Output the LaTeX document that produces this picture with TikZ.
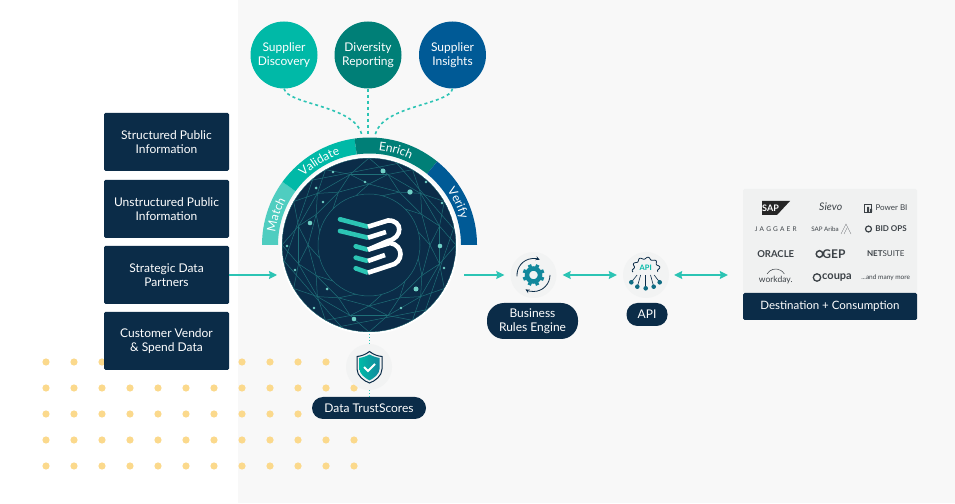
\documentclass[tikz,border=0pt]{standalone}
\usepackage{fontspec}
\setmainfont{Lato}
\usetikzlibrary{decorations.text,arrows.meta}
\definecolor{navyc}{HTML}{0B2C48}
\definecolor{greyc}{HTML}{F8F8F8}
\definecolor{logoc}{HTML}{F0F1F1}
\definecolor{logotxt}{HTML}{3C4247}
\definecolor{matchc}{HTML}{4FCDC0}
\definecolor{validc}{HTML}{00B9A7}
\definecolor{enrichc}{HTML}{007F77}
\definecolor{verifyc}{HTML}{005A96}
\definecolor{flowc}{HTML}{2CC4B4}
\definecolor{meshc}{HTML}{1F6F78}
\definecolor{sparkc}{HTML}{6FD0C6}
\definecolor{dotc}{HTML}{FBD98C}
\definecolor{gearc}{HTML}{12889C}
\newcommand{\labelfont}{\fontsize{12}{14}\selectfont}
\newcommand{\bandfont}{\fontsize{12}{14}\selectfont\color{white}}
\tikzset{
	infobox/.style={fill=navyc,text=white,rounded corners=1.5pt,minimum width=125,minimum height=58,align=center,font=\labelfont},
	bubble/.style={circle,minimum size=67,inner sep=0,text=white,align=center,font=\labelfont},
	pill/.style={fill=navyc,text=white,rounded corners=11pt,align=center,inner sep=0,font=\labelfont},
	iconbg/.style={circle,fill=logoc!70!greyc,minimum size=46,inner sep=0},
	flow/.style={draw=flowc,line width=1.5pt,>={Stealth[length=8pt,width=8pt,inset=1pt]}},
	dashlink/.style={draw=flowc,line width=1.6pt,dash pattern=on 3pt off 3pt},
	specklink/.style={draw=flowc,line width=1pt,dash pattern=on 1pt off 2pt},
	brand/.style={text=logotxt,inner sep=0}
}
\begin{document}
\begin{tikzpicture}[x=1pt,y=1pt]
	\useasboundingbox (0,0) rectangle (955,503);
	\fill[white] (0,0) rectangle (955,503);
	\fill[greyc] (238,0) rectangle (955,503);
	\foreach \row in {141,115,89,63,37}
		\foreach \col in {46,74,...,354}
			\fill[dotc] (\col,\row) circle (3.6);

	\node[infobox] (public) at (166.5,361) {Structured Public\\Information};
	\node[infobox] (unstruct) at (166.5,294) {Unstructured Public\\Information};
	\node[infobox] (partners) at (166.5,228) {Strategic Data\\Partners};
	\node[infobox] (vendor) at (166.5,162) {Customer Vendor\\\& Spend Data};

	\node[bubble,fill=validc] (discovery) at (284,448) {Supplier\\Discovery};
	\node[bubble,fill=enrichc] (diversity) at (368,448) {Diversity\\Reporting};
	\node[bubble,fill=verifyc] (insights) at (452.5,448) {Supplier\\Insights};

	\begin{scope}[shift={(369.5,258)}]
		\foreach \from/\to/\col in {180/144/matchc,144/98/validc,98/51/enrichc,51/0/verifyc}
			\fill[\col] (\from:107.5) arc (\from:\to:107.5) -- (\to:91.5) arc (\to:\from:91.5) -- cycle;
		\path[decorate,decoration={text along path,text align=center,text={|\bandfont|Match}}] (180:95) arc (180:144:95);
		\path[decorate,decoration={text along path,text align=center,text={|\bandfont|Validate}}] (144:95) arc (144:98:95);
		\path[decorate,decoration={text along path,text align=center,text={|\bandfont|Enrich}}] (98:95) arc (98:51:95);
		\path[decorate,decoration={text along path,text align=center,text={|\bandfont|Verify}}] (51:95) arc (51:0:95);
	\end{scope}

	\node[circle,fill=navyc,draw=white,line width=2pt,minimum size=176,inner sep=0] (hub) at (369,258) {};
	\begin{scope}
		\clip (hub) circle (87);
		\begin{scope}[shift={(hub)},draw=meshc,line width=.5pt]
			\foreach \a in {0,30,...,330} {
				\draw (\a:87) -- (\a+15:73) -- (\a+30:87);
				\draw (\a+15:73) -- (\a+45:73);
				\draw (\a+15:73) -- (\a+30:61) -- (\a+45:73);
				\draw (\a+30:61) -- (\a+60:61);
				\draw (\a+30:61) -- (\a+45:51);
			}
			\foreach \a in {10,70,...,310}
				\draw (\a:87) -- (\a+62:87);
			\fill[navyc] (0,0) circle (51);
			\draw (0,0) circle (51);
			\draw (0,0) circle (87);
		\end{scope}
	\end{scope}
	\foreach \x/\y/\r in {333/331/1.4,383/332/2.5,365/321/1.4,426/321/1.4,410/311/2.7,316/315/1.5,323/301/1.4,442/300/1.4,310/280/2.3,440/257/2.3,287/257/1.4,444/235/1.4,295/233/1.4,327/214/1.5,416/214/2.5,314/195/1.4,401/195/1.4,354/184/2.3}
		\fill[sparkc] (\x,\y) circle (\r);

	\foreach \ya/\yb/\xa in {283.7/276.3/340,272/265.3/340,256.7/253.3/355.7,245.3/242/355.7,234.7/230.3/355.7} {
		\fill[flowc] (\xa,\ya) circle (2.3);
		\draw[flowc,line width=4.6pt] (\xa,\ya) -- (368,\yb);
	}
	\draw[white,line width=4.6pt] (368,276.3) -- (388,282.5) .. controls (403,283) and (403,265) .. (388,262) -- (368,253.3);
	\draw[white,line width=4.6pt] (368,265.3) -- (386,271);
	\draw[white,line width=4.6pt] (368,253.3) -- (390,260) .. controls (404,258) and (404,240) .. (390,237.5) -- (368,230.3);
	\draw[white,line width=4.6pt] (368,242) -- (385,248);

	\node[iconbg] (trust) at (369,136) {};
	\node[pill,minimum width=114,minimum height=22] (scores) at (369,95) {Data TrustScores};
	\node[iconbg] (rules) at (533.5,228) {};
	\node[pill,minimum width=91,minimum height=36,rounded corners=17pt] (engine) at (532.5,182) {Business\\Rules Engine};
	\node[iconbg] (api) at (646,228) {};
	\node[pill,minimum width=41,minimum height=23] (apilabel) at (647,188.5) {API};

	\draw[navyc,line width=1pt] (369.5,151.5) .. controls (365,148) and (361,147) .. (357,146.5) -- (357,134) .. controls (357,127) and (364,122) .. (369.5,120) .. controls (375,122) and (382,127) .. (382,134) -- (382,146.5) .. controls (378,147) and (374,148) .. (369.5,151.5) -- cycle;
	\shade[left color=validc,right color=gearc] (369.5,148.5) .. controls (366,146.5) and (362,145.5) .. (359.5,145) -- (359.5,134) .. controls (359.5,129) and (365,125) .. (369.5,122.5) .. controls (374,125) and (379.5,129) .. (379.5,134) -- (379.5,145) .. controls (377,145.5) and (373,146.5) .. (369.5,148.5) -- cycle;
	\draw[white,line width=2pt] (364,136) -- (368,132) -- (375,139);

	\begin{scope}[shift={(rules)}]
		\foreach \a in {0,45,...,315}
			\draw[gearc,line width=3.5pt] (\a+22:7) -- (\a+22:11);
		\draw[gearc,line width=4.5pt] (0,0) circle (6.5);
		\draw[navyc,line width=.8pt,-stealth] (185:16.5) arc (185:68:16.5);
		\draw[navyc,line width=.8pt,-stealth] (0:16.5) arc (0:-119:16.5);
	\end{scope}

	\draw[navyc,line width=.8pt] plot[domain=-15:195,samples=90] ({646+(12.8+1.2*sin(10*\x))*cos(\x)},{234+(12.8+1.2*sin(10*\x))*sin(\x)*.85});
	\node[text=validc,inner sep=0,font=\fontsize{7.5}{8}\selectfont\bfseries] (apitag) at (645.7,235) {API};
	\foreach \x/\y in {631.3/220.7,637.3/216.3,645.7/214.7,653.7/216.3,659.7/220.7} {
		\draw[navyc,line width=.6pt] (\x,\y) -- (645.7+.6*\x-.6*645.7,228);
		\fill[gearc!70!navyc] (\x,\y) circle (2.3);
	}

	\node[fill=logoc,rounded corners=1.5pt,minimum width=174,minimum height=104,inner sep=0] (logos) at (830,262) {};
	\node[fill=navyc,text=white,rounded corners=1.5pt,minimum width=174,minimum height=27,inner sep=0,font=\fontsize{11.5}{14}\selectfont] (dest) at (830,196.5) {Destination + Consumption};

	\fill[black!85] (762,302) -- (790,302) -- (777,288) -- (762,288) -- cycle;
	\node[text=white,inner sep=0,font=\fontsize{9}{10}\selectfont\bfseries] (sap) at (770.5,295) {SAP};
	\node[brand,font=\fontsize{10.5}{11}\selectfont\itshape] (sievo) at (830.7,296) {Sievo};
	\draw[logotxt,line width=.7pt] (864,291) rectangle (871,299);
	\fill[logotxt] (867,291) rectangle (869,296) (870,291) rectangle (872,294);
	\node[brand,font=\fontsize{8}{9}\selectfont] (powerbi) at (891.5,295) {Power BI};
	\node[brand,font=\fontsize{6.5}{7}\selectfont] (jaggaer) at (775.7,274) {J\,\,A\,\,G\,\,G\,\,A\,\,E\,\,R};
	\node[brand,font=\fontsize{6.2}{7}\selectfont] (ariba) at (825,274) {SAP Ariba};
	\draw[logotxt!70,line width=.4pt] (841,269) -- (846,279) -- (851,269) (844,269) -- (847,275);
	\draw[logotxt,line width=1.2pt] (868.5,274) circle (3);
	\node[brand,font=\fontsize{8}{9}\selectfont\bfseries] (bidops) at (891,274) {BID OPS};
	\node[brand,font=\fontsize{9.5}{10}\selectfont\bfseries] (oracle) at (775.7,249) {ORACLE};
	\node[brand,font=\fontsize{12}{13}\selectfont\bfseries] (gep) at (834,249) {GEP};
	\draw[logotxt,line width=1.5pt] (819.5,249) circle (3.3);
	\node[brand,font=\fontsize{8}{9}\selectfont] (netsuite) at (885.7,249) {\textbf{NET}SUITE};
	\node[brand,font=\fontsize{8.5}{9}\selectfont] (workday) at (775.7,223) {workday.};
	\draw[logotxt,line width=.5pt] (767,229) arc (150:30:10);
	\node[brand,font=\fontsize{11}{12}\selectfont\bfseries] (coupa) at (837,225.5) {coupa};
	\draw[logotxt,line width=1.3pt] (817,225.5) circle (3.7);
	\node[brand,font=\fontsize{6.5}{7}\selectfont] (more) at (885.7,225.5) {...and many more};

	\coordinate (endl) at (362,368);
	\coordinate (endm) at (368,368);
	\coordinate (endr) at (375,368);
	\draw[dashlink] (discovery.south) .. controls (288,398) and (355,398) .. (endl);
	\draw[dashlink] (diversity.south) -- (endm);
	\draw[dashlink] (insights.south) .. controls (450,398) and (382,398) .. (endr);
	\draw[specklink] (hub.south) -- (trust.north);
	\draw[specklink] (trust.south) -- (scores.north);

	\draw[flow,->,shorten >=3pt] (partners.east) -- (partners.east -| hub.west);
	\draw[flow,->,shorten <=6pt,shorten >=6pt] (hub.east |- rules.west) -- (rules.west);
	\draw[flow,<->,shorten <=6pt,shorten >=6pt] (rules.east) -- (api.west);
	\draw[flow,<->,shorten <=5pt,shorten >=15pt] (api.east) -- (api.east -| logos.west);
\end{tikzpicture}
\end{document}
